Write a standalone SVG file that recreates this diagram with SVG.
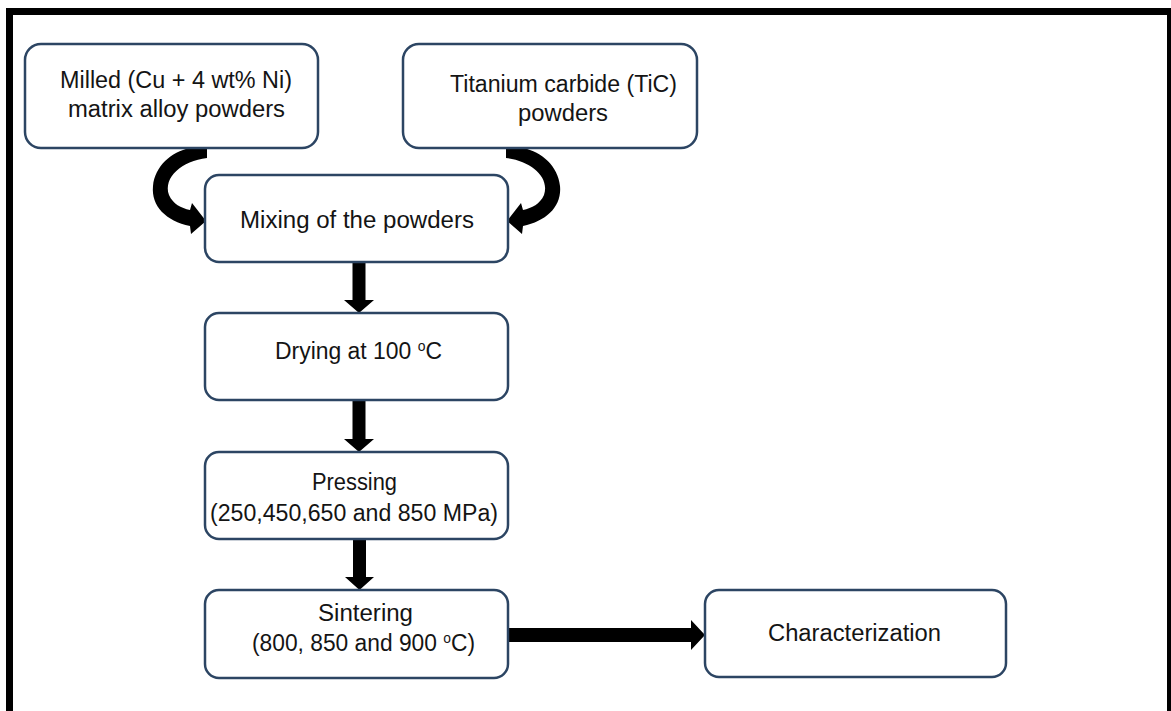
<svg xmlns="http://www.w3.org/2000/svg" width="1171" height="711" viewBox="0 0 1171 711">
<style>
.box{fill:#ffffff;stroke:#2c4563;stroke-width:2.5}
.t{font-family:"Liberation Sans",Arial,sans-serif;font-size:23px;fill:#141414;text-anchor:middle}
.sup{font-size:14px}
.arr{fill:#000000}
</style>
<rect x="0" y="0" width="1171" height="711" fill="#ffffff"/>
<rect x="9.5" y="11.5" width="1161" height="730" fill="none" stroke="#000000" stroke-width="7"/>

<g id="connectors">
  <path class="arr" d="M190,148 L207,148 L207,158 C182,161 163,177 169,195 C173,204 181,208 190,210 L192,203 L206,221 L191,234 L190,226 C166,221 151,206 153,186 C155,166 171,152 190,148 Z"/>
  <path class="arr" transform="translate(713,0) scale(-1,1)" d="M190,148 L207,148 L207,158 C182,161 163,177 169,195 C173,204 181,208 190,210 L192,203 L206,221 L191,234 L190,226 C166,221 151,206 153,186 C155,166 171,152 190,148 Z"/>
  <path class="arr" d="M352.5,262 L365.5,262 L365.5,300 L374,300 L359,313 L344,300 L352.5,300 Z"/>
  <path class="arr" d="M352.5,400 L365.5,400 L365.5,439 L374,439 L359,452 L344,439 L352.5,439 Z"/>
  <path class="arr" d="M353,539 L366,539 L366,577 L374,577 L359.5,590 L345,577 L353,577 Z"/>
  <path class="arr" d="M508,628 L691,628 L691,620 L705,635 L691,650 L691,642 L508,642 Z"/>
</g>

<g id="milled">
  <rect class="box" x="25" y="44" width="293" height="104" rx="16"/>
  <text class="t" x="176" y="88" textLength="232" lengthAdjust="spacingAndGlyphs">Milled (Cu + 4 wt% Ni)</text>
  <text class="t" x="176.5" y="117" textLength="217" lengthAdjust="spacingAndGlyphs">matrix alloy powders</text>
</g>
<g id="tic">
  <rect class="box" x="403" y="44" width="294" height="104" rx="16"/>
  <text class="t" x="563.5" y="92" textLength="227" lengthAdjust="spacingAndGlyphs">Titanium carbide (TiC)</text>
  <text class="t" x="563" y="121" textLength="90" lengthAdjust="spacingAndGlyphs">powders</text>
</g>
<g id="mixing">
  <rect class="box" x="205" y="175" width="303" height="87" rx="14"/>
  <text class="t" x="357" y="228" textLength="234" lengthAdjust="spacingAndGlyphs">Mixing of the powders</text>
</g>
<g id="drying">
  <rect class="box" x="205" y="313" width="303" height="87" rx="14"/>
  <text class="t" x="358.5" y="359" textLength="167" lengthAdjust="spacingAndGlyphs">Drying at 100 <tspan class="sup" dy="-8">o</tspan><tspan dy="8">C</tspan></text>
</g>
<g id="pressing">
  <rect class="box" x="205" y="452" width="303" height="87" rx="14"/>
  <text class="t" x="354.5" y="490" textLength="85" lengthAdjust="spacingAndGlyphs">Pressing</text>
  <text class="t" x="354" y="521" textLength="288" lengthAdjust="spacingAndGlyphs">(250,450,650 and 850 MPa)</text>
</g>
<g id="sintering">
  <rect class="box" x="205" y="590" width="303" height="88" rx="14"/>
  <text class="t" x="365.5" y="621" textLength="95" lengthAdjust="spacingAndGlyphs">Sintering</text>
  <text class="t" x="363.5" y="651" textLength="223" lengthAdjust="spacingAndGlyphs">(800, 850 and 900 <tspan class="sup" dy="-8">o</tspan><tspan dy="8">C)</tspan></text>
</g>
<g id="characterization">
  <rect class="box" x="705" y="590" width="301" height="87" rx="14"/>
  <text class="t" x="854.5" y="641" textLength="173" lengthAdjust="spacingAndGlyphs">Characterization</text>
</g>
</svg>
